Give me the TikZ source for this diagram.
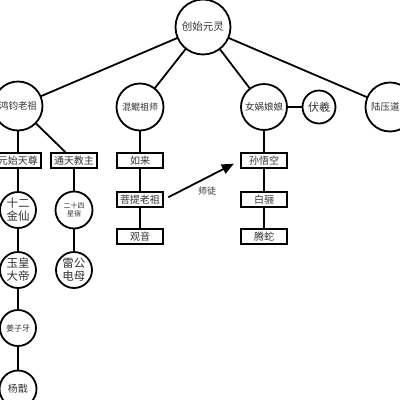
\documentclass[tikz,border=0pt]{standalone}
\usepackage{fontspec}
\newfontfamily\cjk{Noto Sans CJK SC}
\usetikzlibrary{arrows.meta}
\begin{document}
\begin{tikzpicture}[x=1pt,y=-1pt,
  every node/.style={font=\cjk, text=black!80},
  bigc/.style={circle,draw=black,line width=1.8pt,fill=white,minimum size=#1,inner sep=0pt},
  bx/.style={rectangle,draw=black,line width=1.8pt,fill=white,minimum width=46pt,minimum height=15pt,inner sep=2pt,font=\cjk\fontsize{10}{11}\selectfont},
  ln/.style={line width=1.8pt,draw=black}]
\useasboundingbox (0,0) rectangle (400,400);
\fill[white] (0,0) rectangle (400,400);
% edges first (drawn behind nodes)
\coordinate (c0) at (203,27);
\coordinate (chj) at (18,106);
\coordinate (chk) at (140,107);
\coordinate (cnw) at (264,107);
\coordinate (cly) at (390,107);
\draw[ln] (c0) -- (chj);
\draw[ln] (c0) -- (chk);
\draw[ln] (c0) -- (cnw);
\draw[ln] (c0) -- (cly);
% nodes
\node[bigc=55pt,font=\cjk\fontsize{10.5}{12}\selectfont] (root) at (c0) {创始元灵};
\node[bigc=49pt,font=\cjk\fontsize{9.5}{11}\selectfont] (hj) at (chj) {鸿钧老祖};
\node[bigc=47pt,font=\cjk\fontsize{9}{11}\selectfont] (hk) at (chk) {混鲲祖师};
\node[bigc=46pt,font=\cjk\fontsize{9.5}{11}\selectfont] (nw) at (cnw) {女娲娘娘};
\node[bigc=33pt,font=\cjk\fontsize{11}{12}\selectfont] (fx) at (319,107) {伏羲};
\node[bigc=49pt,font=\cjk\fontsize{9.5}{11}\selectfont] (ly) at (cly) {陆压道君};
\draw[ln] (nw) -- (fx);
% left branch
\node[bx] (ys) at (18,160.5) {元始天尊};
\node[bx] (tt) at (74,160.5) {通天教主};
\node[bigc=36pt,font=\cjk\fontsize{11.5}{13}\selectfont,align=center] (sx) at (18,210) {十二\\金仙};
\node[bigc=37pt,font=\cjk\fontsize{7}{8.5}\selectfont,align=center] (ex) at (74,210) {二十四\\星宿};
\node[bigc=36pt,font=\cjk\fontsize{11.5}{13}\selectfont,align=center] (yh) at (18,270) {玉皇\\大帝};
\node[bigc=36pt,font=\cjk\fontsize{11.5}{13}\selectfont,align=center] (lg) at (74,270) {雷公\\电母};
\node[bigc=36pt,font=\cjk\fontsize{8}{9}\selectfont] (jz) at (18,328) {姜子牙};
\node[bigc=37pt,font=\cjk\fontsize{10}{11}\selectfont] (yj) at (18,389) {杨戬};
\draw[ln] (hj) -- (ys);
\draw[ln] (hj) -- (tt);
\draw[ln] (ys) -- (sx);
\draw[ln] (sx) -- (yh);
\draw[ln] (yh) -- (jz);
\draw[ln] (jz) -- (yj);
\draw[ln] (tt) -- (ex);
\draw[ln] (ex) -- (lg);
% middle branch
\node[bx] (rl) at (140,160.5) {如来};
\node[bx] (pt) at (140,199.5) {菩提老祖};
\node[bx] (gy) at (140,236.5) {观音};
\draw[ln] (hk) -- (rl);
\draw[ln] (rl) -- (pt);
\draw[ln] (pt) -- (gy);
% right branch
\node[bx] (sw) at (264,160.5) {孙悟空};
\node[bx] (bl) at (264,199.5) {白骊};
\node[bx] (ts) at (264,236.5) {腾蛇};
\draw[ln] (nw) -- (sw);
\draw[ln] (sw) -- (bl);
\draw[ln] (bl) -- (ts);
% arrow
\draw[ln,-{Triangle[length=12pt,width=10pt]},shorten <=5pt,shorten >=7pt] (pt.east) -- (sw.west);
\node[font=\cjk\fontsize{9}{10}\selectfont] (lbl) at (207,191) {师徒};
\end{tikzpicture}
\end{document}
